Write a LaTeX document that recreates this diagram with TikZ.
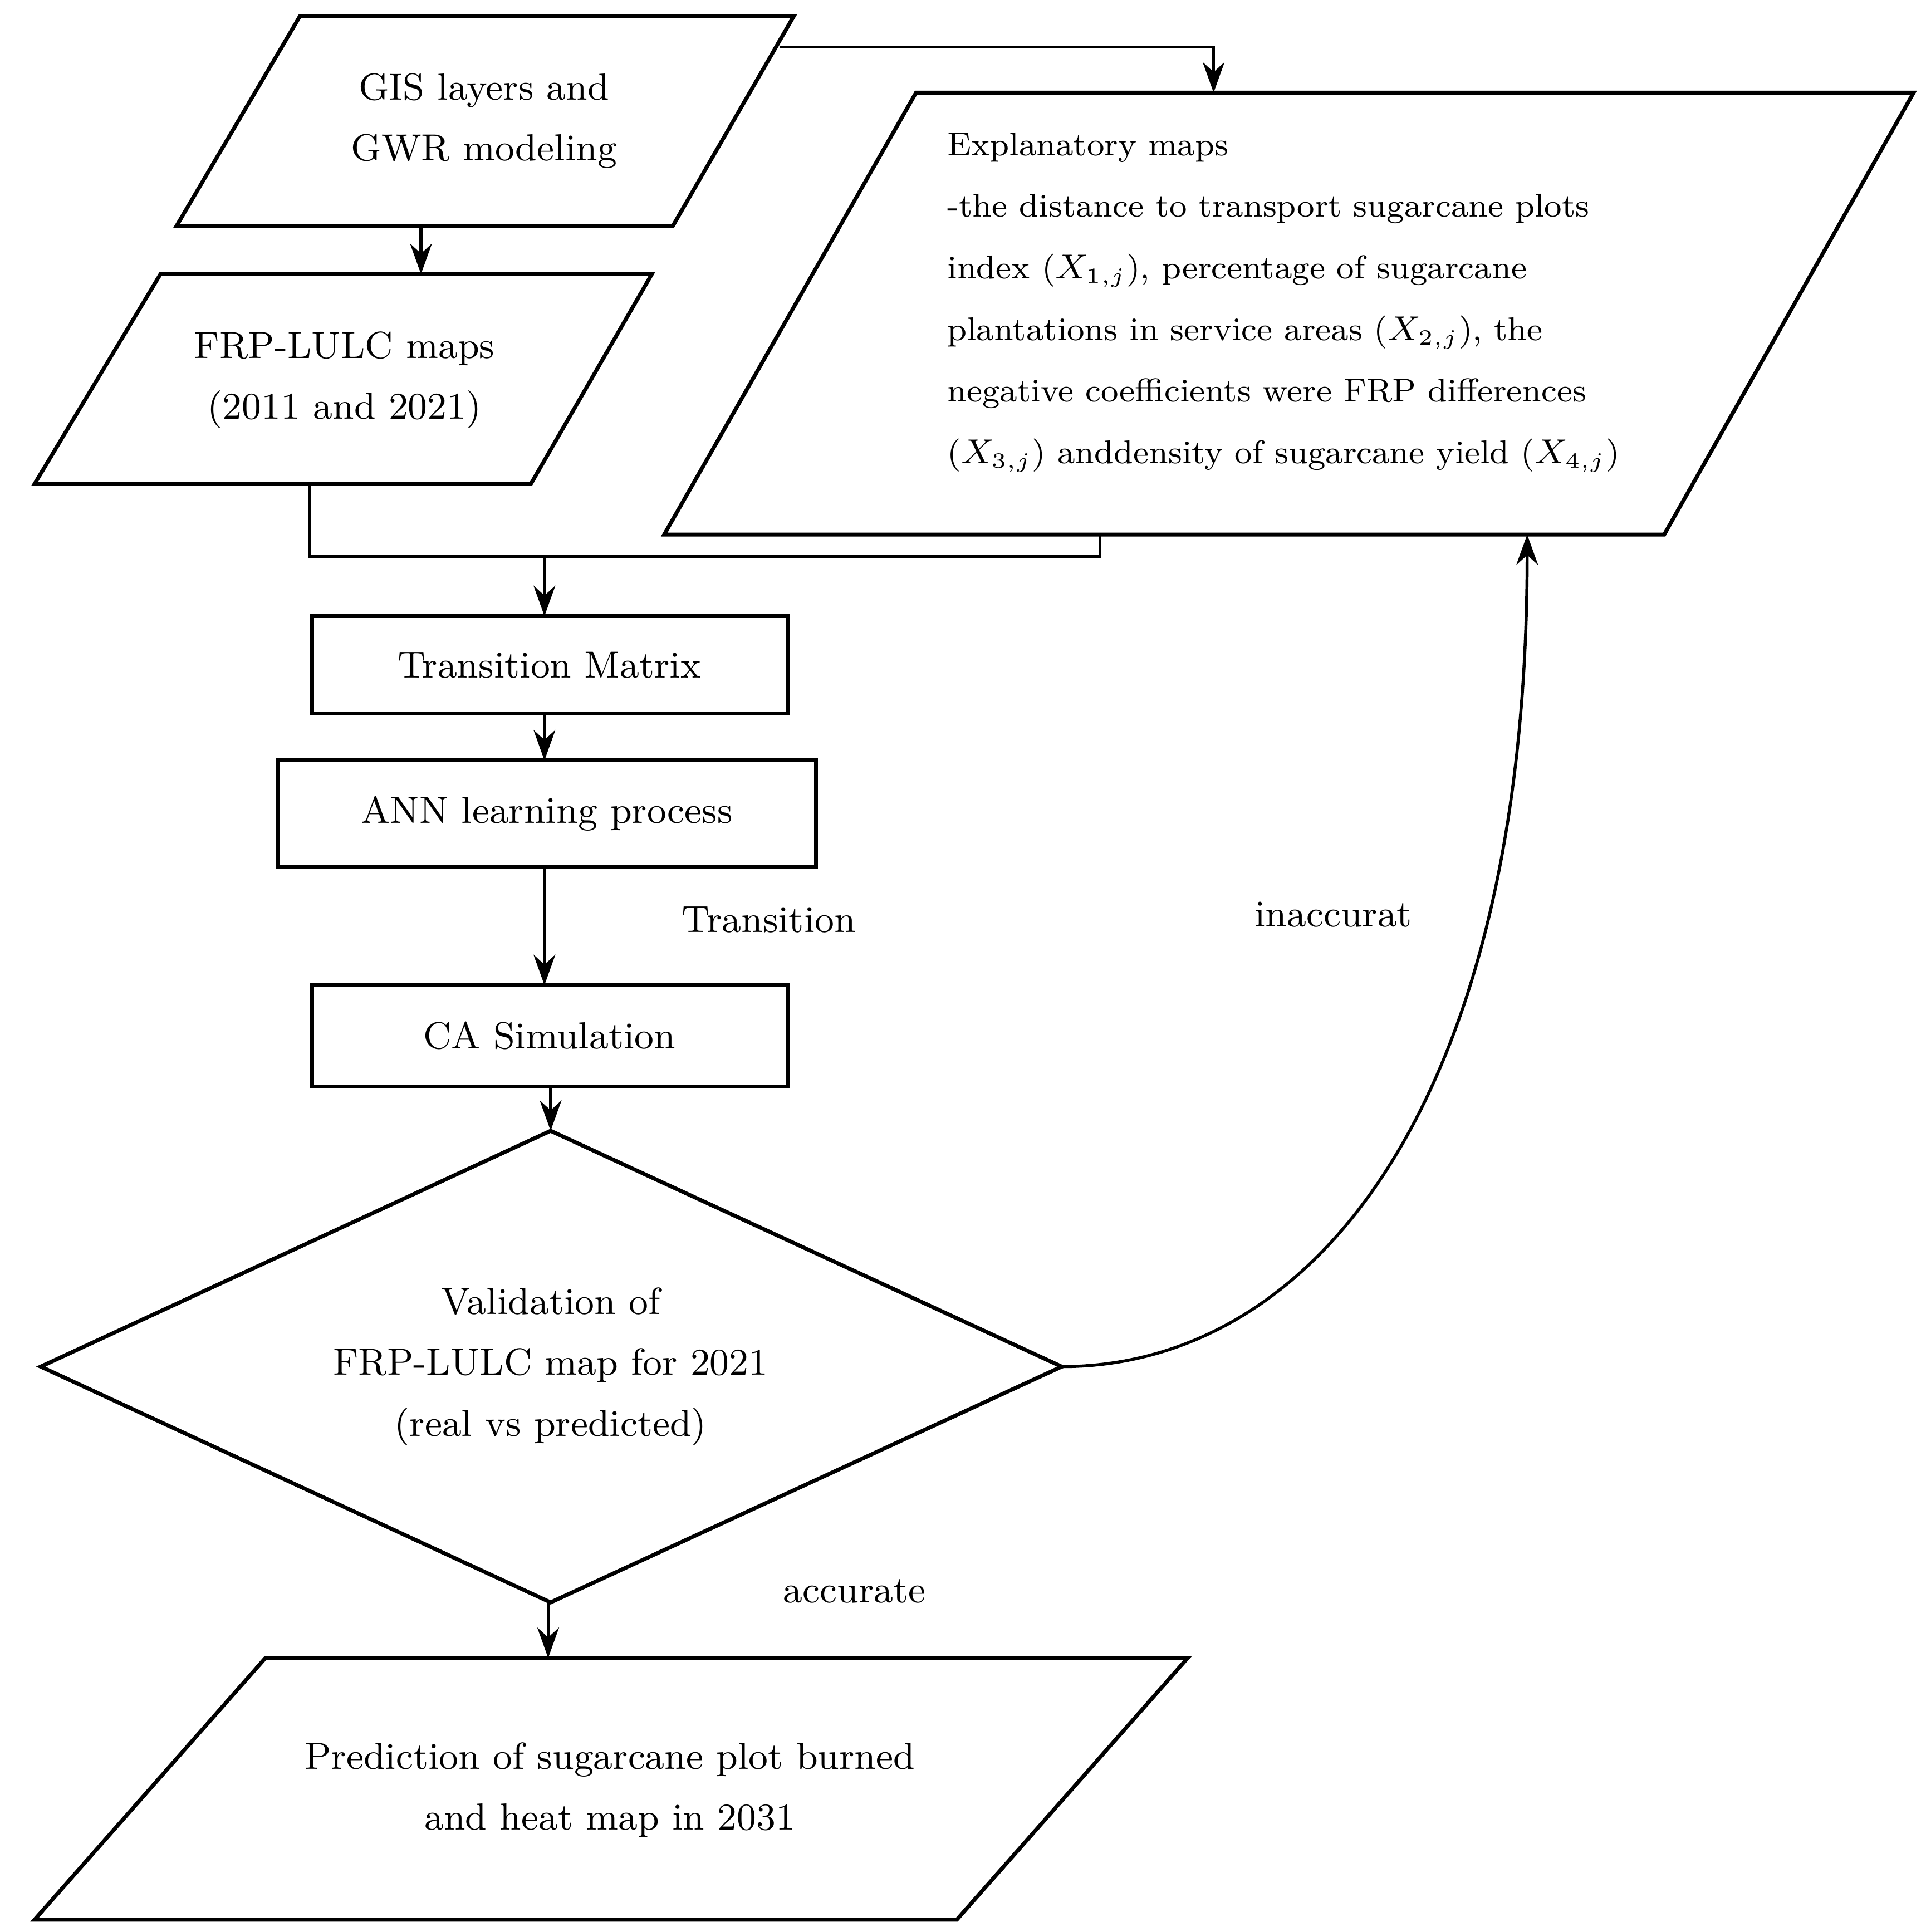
\documentclass[tikz,border=0pt]{standalone}
\usetikzlibrary{positioning,arrows.meta}
\begin{document}
\begin{tikzpicture}[%
            x=0.1mm,
            y=-0.1mm,
            >={Stealth[length=7pt,width=5pt]},
            ]
    \tikzset{box/.style = {draw, thick, line width=0.9pt}}
    \tikzset{lbl/.style = {font=\fontsize{8.7}{14}\selectfont, align=center}}
    \tikzset{link/.style = {->, line width=0.7pt}}
    \useasboundingbox (0,0) rectangle (1560,1565);

    % Parallelograms
    \draw[box] (243,13) -- (643,13) -- (545,183) -- (143,183) -- cycle;
    \node[lbl] (gis) at (392,98) {GIS layers and\\GWR modeling};
    \draw[box] (130,222) -- (528,222) -- (430,392) -- (28,392) -- cycle;
    \node[lbl] (frp) at (279,308) {FRP-LULC maps\\(2011 and 2021)};
    \draw[box] (742,75) -- (1550,75) -- (1348,433) -- (538,433) -- cycle;
    \node[font=\fontsize{7.6}{14.2}\selectfont, align=left, anchor=north west] (expl) at (755,95)
        {Explanatory maps\\
         -the distance to transport sugarcane plots\\
         index ($X_{1,j}$), percentage of sugarcane\\
         plantations in service areas ($X_{2,j}$), the\\
         negative coefficients were FRP differences\\
         ($X_{3,j}$) anddensity of sugarcane yield ($X_{4,j}$)};
    \draw[box] (215,1343) -- (962,1343) -- (775,1555) -- (28,1555) -- cycle;
    \node[lbl] (pred) at (494,1450) {Prediction of sugarcane plot burned\\and heat map in 2031};

    % Rectangles
    \draw[box] (253,499) rectangle (638,578);
    \node[lbl] (tm) at (445,539) {Transition Matrix};
    \draw[box] (225,616) rectangle (661,702);
    \node[lbl] (ann) at (443,659) {ANN learning process};
    \draw[box] (253,798) rectangle (638,880);
    \node[lbl] (ca) at (445,839) {CA Simulation};

    % Diamond
    \draw[box] (446,916) -- (860,1107) -- (446,1298) -- (33,1107) -- cycle;
    \node[lbl] (val) at (446,1107) {Validation of\\FRP-LULC map for 2021\\(real vs predicted)};

    % Connectors
    \coordinate (gisR) at (632,38);
    \coordinate (explT) at (983,75);
    \coordinate (gisB) at (341,183);
    \coordinate (frpT) at (341,222);
    \coordinate (frpB) at (251,392);
    \coordinate (explB) at (891,433);
    \coordinate (join) at (441,451);
    \coordinate (tmT) at (441,499);
    \coordinate (valR) at (860,1107);
    \coordinate (explC) at (1237,433);
    \draw[link] (gisR) -| (explT);
    \draw[link] (gisB) -- (frpT);
    \draw[line width=0.7pt] (frpB) |- (join) -- (join -| explB) -- (explB);
    \draw[link] (join) -- (tmT);
    \draw[link] (441,578) -- (441,616);
    \draw[link] (441,702) -- node[lbl, right=28pt, pos=0.45] {Transition} (441,798);
    \draw[link] (446,880) -- (446,916);
    \draw[link] (444,1298) -- (444,1343);
    \node[lbl] at (692,1289) {accurate};
    \draw[link] (valR) .. controls (1060,1107) and (1237,900) .. (explC);
    \node[lbl] at (1080,741) {inaccurat};
\end{tikzpicture}
\end{document}
